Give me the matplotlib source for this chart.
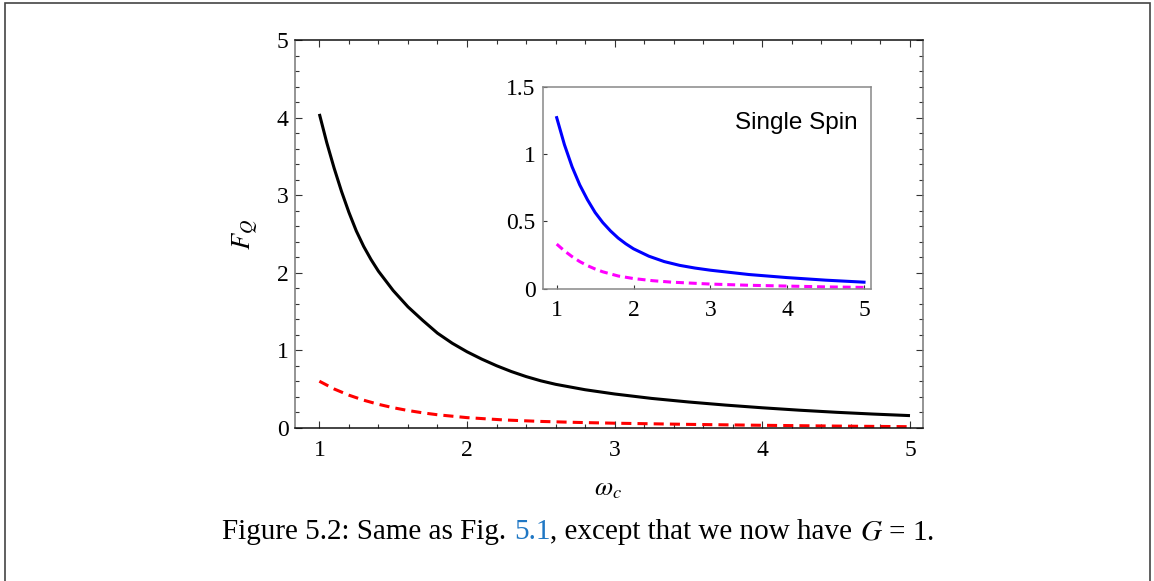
import matplotlib
matplotlib.use("Agg")
import matplotlib.pyplot as plt
from matplotlib.patches import Rectangle
from matplotlib.ticker import MultipleLocator

# ---- data ----
main_x_black = [1.0, 1.05, 1.1, 1.15, 1.2, 1.25, 1.3, 1.35, 1.4, 1.5, 1.6, 1.7, 1.8, 1.9, 2.0,
                2.1, 2.2, 2.3, 2.4, 2.5, 2.6, 2.8, 3.0, 3.25, 3.5, 3.75, 4.0, 4.25, 4.5, 4.75, 5.0]
main_y_black = [4.05, 3.68, 3.35, 3.05, 2.78, 2.54, 2.34, 2.17, 2.02, 1.77, 1.56, 1.385, 1.22,
                1.09, 0.98, 0.885, 0.80, 0.725, 0.66, 0.605, 0.56, 0.49, 0.435, 0.378, 0.332,
                0.292, 0.257, 0.226, 0.199, 0.176, 0.156]
main_x_red = [1.0, 1.1, 1.2, 1.3, 1.4, 1.5, 1.6, 1.7, 1.8, 2.0, 2.25, 2.5, 2.75, 3.0, 3.5, 4.0,
              4.5, 5.0]
main_y_red = [0.60, 0.50, 0.42, 0.355, 0.302, 0.258, 0.222, 0.192, 0.167, 0.13, 0.10, 0.081,
              0.068, 0.058, 0.043, 0.031, 0.021, 0.013]

inset_x_blue = [1.0, 1.1, 1.2, 1.3, 1.4, 1.5, 1.6, 1.7, 1.8, 1.9, 2.0, 2.2, 2.4, 2.6, 2.8, 3.0,
                3.5, 4.0, 4.5, 5.0]
inset_y_blue = [1.27, 1.07, 0.905, 0.77, 0.66, 0.565, 0.49, 0.428, 0.375, 0.332, 0.295, 0.24,
                0.20, 0.172, 0.152, 0.136, 0.104, 0.081, 0.062, 0.047]
inset_x_mag = [1.0, 1.1, 1.2, 1.3, 1.4, 1.5, 1.6, 1.8, 2.0, 2.25, 2.5, 3.0, 3.5, 4.0, 4.5, 5.0]
inset_y_mag = [0.33, 0.28, 0.237, 0.20, 0.17, 0.145, 0.124, 0.093, 0.074, 0.058, 0.047, 0.033,
               0.024, 0.018, 0.012, 0.008]

main_xticks = [1, 2, 3, 4, 5]
main_yticks = [0, 1, 2, 3, 4, 5]
inset_xticks = [1, 2, 3, 4, 5]
inset_yticks = [0, 0.5, 1, 1.5]
inset_yticklabels = ["0", "0.5", "1", "1.5"]

xlabel = r"$\omega_c$"
ylabel = r"$F_Q$"
inset_text = "Single Spin"
caption_parts = ["Figure 5.2: Same as Fig. ", "5.1", ", except that we now have ", r"$G$ = 1."]
caption_colors = ["black", "#1f77c4", "black", "black"]

# ---- figure ----
W, H = 1154, 581
plt.rcParams["mathtext.fontset"] = "stix"
plt.rcParams["font.family"] = ["Liberation Serif", "DejaVu Serif"]
fig = plt.figure(figsize=(W / 100, H / 100), dpi=100)

# outer frame
fig.patches.append(Rectangle((4.5 / W, -0.2), 1145 / W, 1.2 - 2.5 / H, transform=fig.transFigure,
                             fill=False, edgecolor="#444444", linewidth=1.2, clip_on=False))

ax = fig.add_axes([295 / W, 1 - 427.7 / H, (922.7 - 295) / W, (427.7 - 40.3) / H])
ax.plot(main_x_black, main_y_black, color="black", lw=2.2, solid_capstyle="butt",
        solid_joinstyle="round")
ax.plot(main_x_red, main_y_red, color="#ff0000", lw=2.2, dashes=(3.3, 2.0))
ax.set_xlim(0.835, 5.086)
ax.set_ylim(0, 5)
ax.set_xticks(main_xticks)
ax.set_yticks(main_yticks)
ax.xaxis.set_minor_locator(MultipleLocator(0.2))
ax.yaxis.set_minor_locator(MultipleLocator(0.2))
ax.tick_params(which="both", direction="in", top=True, right=True, color="#333333", width=0.8)
ax.tick_params(which="major", length=5.2, labelsize=17, pad=4.5)
ax.tick_params(which="minor", length=3)
ax.tick_params(axis="x", which="major", pad=8.5)
for s in ["top", "bottom"]:
    ax.spines[s].set_color("#111111")
for s in ["left", "right"]:
    ax.spines[s].set_color("#777777")
for s in ax.spines.values():
    s.set_linewidth(1.1)

fig.text(246 / W, 1 - 234 / H, ylabel, rotation=90, ha="center", va="center", fontsize=19)
fig.text(608 / W, 1 - 490 / H, xlabel, ha="center", va="center", fontsize=19)

# inset
ax2 = fig.add_axes([543.3 / W, 1 - 288.5 / H, (870.7 - 543.3) / W, (288.5 - 86.7) / H])
ax2.plot(inset_x_blue, inset_y_blue, color="#0000ff", lw=2.2, solid_joinstyle="round")
ax2.plot(inset_x_mag, inset_y_mag, color="#ff00ff", lw=2.2, dashes=(2.6, 1.6))
ax2.set_xlim(0.8255, 5.087)
ax2.set_ylim(0, 1.5)
ax2.set_xticks(inset_xticks)
ax2.set_yticks(inset_yticks)
ax2.set_yticklabels(inset_yticklabels)
ax2.tick_params(which="major", direction="in", length=3, width=0.8, color="#333333",
                labelsize=17, pad=5.5)
ax2.tick_params(axis="x", pad=8)
for s in ax2.spines.values():
    s.set_color("#888888")
    s.set_linewidth(1.1)
ax2.text(0.961, 0.789, inset_text, transform=ax2.transAxes, ha="right", va="baseline",
         fontsize=17.5, family=["Liberation Sans", "DejaVu Sans"])

# caption with a coloured reference, scaled to the reference width
fs = 17
texts = [fig.text(0, 1 - 539 / H, p, color=c, fontsize=fs, ha="left", va="baseline")
         for p, c in zip(caption_parts, caption_colors)]
fig.canvas.draw()
r = fig.canvas.get_renderer()
total = sum(t.get_window_extent(r).width for t in texts)
fs = fs * 712 / total
for t in texts:
    t.set_fontsize(fs)
fig.canvas.draw()
widths = [t.get_window_extent(r).width for t in texts]
x0 = 578 - sum(widths) / 2
for t, w in zip(texts, widths):
    t.set_x(x0 / W)
    x0 += w

fig.savefig("out.png", dpi=100)
